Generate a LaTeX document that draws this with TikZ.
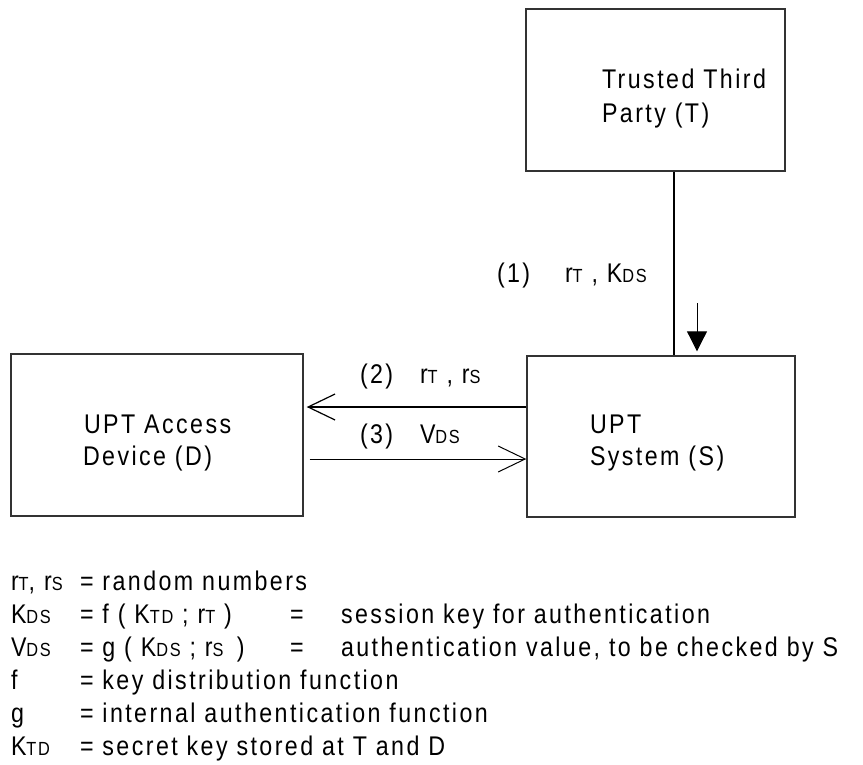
\documentclass[tikz,border=0pt]{standalone}
\usepackage{fontspec}
\setmainfont{Liberation Sans}[FakeStretch=0.86,LetterSpace=9]
\usetikzlibrary{arrows.meta}
\newcommand\sbx[1]{{\fontsize{19}{19}\selectfont #1}}
\begin{document}
\begin{tikzpicture}[x=1pt,y=-1pt,
  font=\fontsize{27}{33}\selectfont,
  box/.style={draw=black!80, line width=1.4pt, inner sep=0pt},
  txt/.style={anchor=base west, inner sep=0pt, outer sep=0pt},
  thickconn/.style={line width=2pt},
  thinconn/.style={line width=1pt},
  barb/.style={-{Straight Barb[length=27pt,width=26pt]}}
]
\useasboundingbox (0,0) rectangle (863,764);

% boxes
\node[box, minimum width=259pt, minimum height=162pt] (T) at (655.5,90) {};
\node[box, minimum width=268pt, minimum height=161pt] (S) at (661,436.5) {};
\node[box, minimum width=292pt, minimum height=162pt] (D) at (157,435) {};

% box texts
\node[txt] (t1) at (602,88) {Trusted Third};
\node[txt] (t2) at (602,122) {Party (T)};
\node[txt] (d1) at (84,433) {UPT Access};
\node[txt] (d2) at (83,465) {Device (D)};
\node[txt] (s1) at (590,433) {UPT};
\node[txt] (s2) at (590,465) {System (S)};

% message labels
\node[txt] (m1n) at (497,282) {(1)};
\node[txt] (m1) at (565,282) {r\sbx{T} , K\sbx{DS}};
\node[txt] (m2n) at (360,383) {(2)};
\node[txt] (m2) at (420,383) {r\sbx{T} , r\sbx{S}};
\node[txt] (m3n) at (360,443) {(3)};
\node[txt] (m3) at (420,443) {V\sbx{DS}};

% connectors
\coordinate (v) at (674,0);
\draw[thickconn] (T.south -| v) -- (S.north -| v);
\coordinate (a1) at (697,303);
\draw[thinconn, -{Triangle[length=20pt,width=20pt]}] (a1) -- ([yshift=4pt]S.north -| a1);
\coordinate (y2) at (0,407);
\draw[thickconn, -{Straight Barb[length=27pt,width=26pt,line width=1.2pt]}] (S.west |- y2) -- ([xshift=3pt]D.east |- y2);
\coordinate (y3) at (0,459);
\draw[thinconn, barb] ([xshift=6pt]D.east |- y3) -- (S.west |- y3);

% legend
\node[txt] (k1) at (11,590) {r\sbx{T}, r\sbx{S}};
\node[txt] (e1) at (80,590) {= random numbers};
\node[txt] (k2) at (11,623) {K\sbx{DS}};
\node[txt] (e2) at (80,623) {= f ( K\sbx{TD} ; r\sbx{T} )};
\node[txt] (q2) at (290,623) {=};
\node[txt] (x2) at (341,623) {session key for authentication};
\node[txt] (k3) at (11,656) {V\sbx{DS}};
\node[txt] (e3) at (80,656) {= g ( K\sbx{DS} ; r\sbx{S}\, )};
\node[txt] (q3) at (290,656) {=};
\node[txt] (x3) at (341,656) {authentication value, to be checked by S};
\node[txt] (k4) at (11,689) {f};
\node[txt] (e4) at (80,689) {= key distribution function};
\node[txt] (k5) at (11,722) {g};
\node[txt] (e5) at (80,722) {= internal authentication function};
\node[txt] (k6) at (11,755) {K\sbx{TD}};
\node[txt] (e6) at (80,755) {= secret key stored at T and D};
\end{tikzpicture}
\end{document}
